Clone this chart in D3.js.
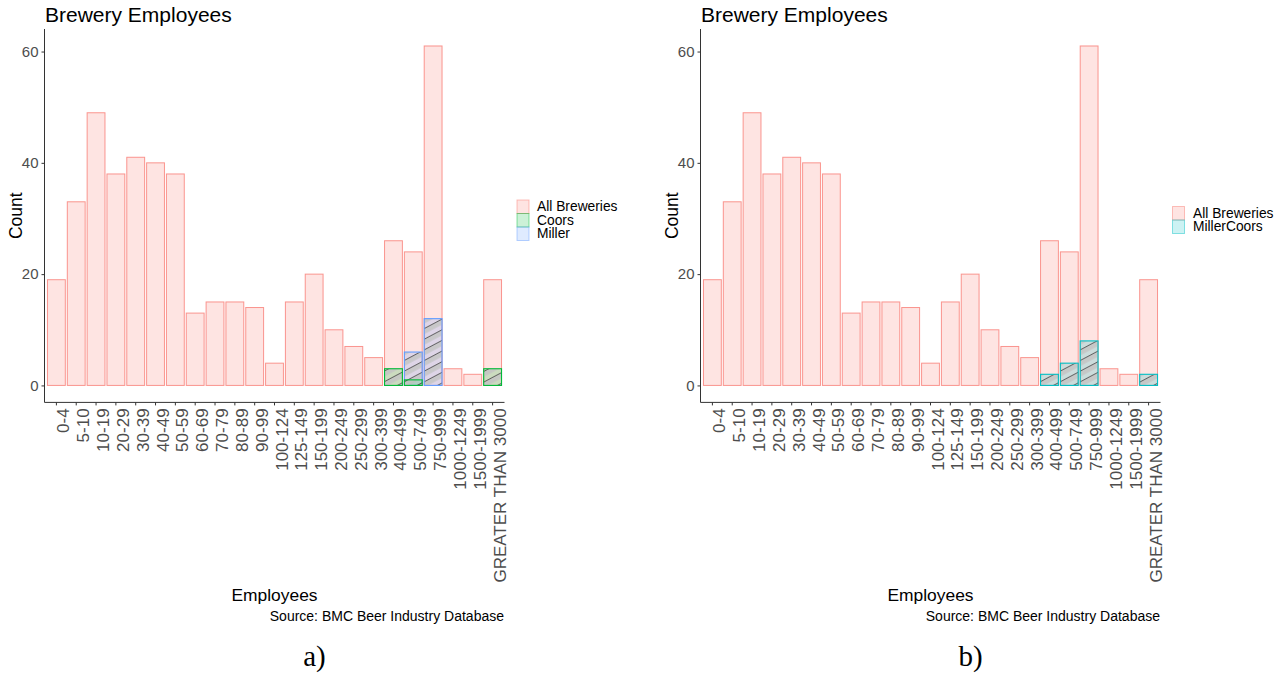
<!DOCTYPE html>
<html><head><meta charset="utf-8">
<script src="https://cdn.jsdelivr.net/npm/d3@7"></script>
<style>body{margin:0;background:#fff}svg{display:block}text{font-family:"Liberation Sans",Arial,sans-serif}</style>
</head><body>
<script>
const categories = ["0-4","5-10","10-19","20-29","30-39","40-49","50-59","60-69","70-79","80-89","90-99","100-124","125-149","150-199","200-249","250-299","300-399","400-499","500-749","750-999","1000-1249","1500-1999","GREATER THAN 3000"];
const allBreweries = [19,33,49,38,41,40,38,13,15,15,14,4,15,20,10,7,5,26,24,61,3,2,19];
const coors =        [0,0,0,0,0,0,0,0,0,0,0,0,0,0,0,0,0,3,1,0,0,0,3];
const miller =       [0,0,0,0,0,0,0,0,0,0,0,0,0,0,0,0,0,0,6,12,0,0,0];
const millerCoors =  [0,0,0,0,0,0,0,0,0,0,0,0,0,0,0,0,0,2,4,8,0,0,2];
const yTicks = [0,20,40,60];
const titleText = "Brewery Employees";
const xTitle = "Employees";
const yTitle = "Count";
const captionText = "Source: BMC Beer Industry Database";

const W = 1288, H = 676;
const svg = d3.select("body").append("svg").attr("width", W).attr("height", H);
const defs = svg.append("defs");

// hatch pattern (grey stripes with dark edge)
const pat = defs.append("pattern").attr("id","hatch").attr("patternUnits","userSpaceOnUse")
  .attr("width",12).attr("height",9.4).attr("patternTransform","rotate(-28)");
pat.append("rect").attr("x",0).attr("y",0).attr("width",12).attr("height",5.4).attr("fill","#c4c4c4");
pat.append("line").attr("x1",0).attr("x2",12).attr("y1",0.4).attr("y2",0.4).attr("stroke","#3a3a3a").attr("stroke-width",0.9);

function panel(ox, series, legendItems, legendX, legendTextX, legendTop, label) {
  const g = svg.append("g").attr("transform", `translate(${ox},0)`);
  const x = d3.scaleBand().domain(categories).range([44.5, 504.5]).paddingInner(0.1).paddingOuter(0.15);
  const y = d3.scaleLinear().domain([-3.05, 64.05]).range([402.4, 29.0]);

  // all breweries
  g.selectAll("rect.all").data(categories).join("rect")
    .attr("x", d => x(d)).attr("width", x.bandwidth())
    .attr("y", (d,i) => y(allBreweries[i])).attr("height", (d,i) => y(0) - y(allBreweries[i]))
    .attr("fill", "#F8766D").attr("fill-opacity", 0.2)
    .attr("stroke", "#F8766D").attr("stroke-opacity", 0.75).attr("stroke-width", 1);

  series.forEach(s => {
    const data = categories.map((c,i) => ({c, v: s.values[i]})).filter(d => d.v > 0);
    const gg = g.append("g");
    gg.selectAll("rect.f").data(data).join("rect")
      .attr("x", d => x(d.c)).attr("width", x.bandwidth())
      .attr("y", d => y(d.v)).attr("height", d => y(0) - y(d.v))
      .attr("fill", s.color).attr("fill-opacity", 0.2);
    gg.selectAll("rect.h").data(data).join("rect")
      .attr("x", d => x(d.c)).attr("width", x.bandwidth())
      .attr("y", d => y(d.v)).attr("height", d => y(0) - y(d.v))
      .attr("fill", "url(#hatch)").attr("fill-opacity", 0.85);
    gg.selectAll("rect.s").data(data).join("rect")
      .attr("x", d => x(d.c)).attr("width", x.bandwidth())
      .attr("y", d => y(d.v)).attr("height", d => y(0) - y(d.v))
      .attr("fill", "none").attr("stroke", s.color).attr("stroke-width", 1.1);
  });

  // axes
  const yAxis = g.append("g").attr("transform","translate(44.5,0)")
    .call(d3.axisLeft(y).tickValues(yTicks).tickSize(3).tickPadding(3));
  yAxis.select(".domain").attr("stroke","#333").attr("stroke-width",1).attr("d", `M0,${y.range()[1]}V${y.range()[0]}`);
  yAxis.selectAll(".tick line").attr("stroke","#333");
  yAxis.selectAll(".tick text").attr("fill","#4d4d4d").style("font-size","15px").style("font-family","Liberation Sans, Arial, sans-serif");

  const xAxis = g.append("g").attr("transform","translate(0,402.4)")
    .call(d3.axisBottom(x).tickSize(3).tickPadding(0));
  xAxis.select(".domain").attr("stroke","#333").attr("stroke-width",1).attr("d", `M44.5,0H504.5`);
  xAxis.selectAll(".tick line").attr("stroke","#333");
  xAxis.selectAll(".tick text")
    .attr("fill","#4d4d4d").style("font-size","17px").style("font-family","Liberation Sans, Arial, sans-serif")
    .attr("transform","translate(13,6) rotate(-90)")
    .attr("x",0).attr("y",0).attr("dy",null).attr("text-anchor","end");

  // titles
  g.append("text").attr("x",45).attr("y",22).attr("font-size",21).attr("fill","#000").text(titleText);
  g.append("text").attr("transform","translate(21.5,215.7) rotate(-90)").attr("text-anchor","middle")
    .attr("font-size",17.5).attr("fill","#000").text(yTitle);
  g.append("text").attr("x",274.5).attr("y",601).attr("text-anchor","middle").attr("font-size",17.4).attr("fill","#000").text(xTitle);
  g.append("text").attr("x",504).attr("y",621).attr("text-anchor","end").attr("font-size",14).attr("fill","#000").text(captionText);
  g.append("text").attr("x",314.5).attr("y",666).attr("text-anchor","middle").attr("font-size",29)
    .style("font-family","'Liberation Serif','DejaVu Serif',serif").attr("fill","#000").text(label);

  // legend
  const lg = svg.append("g");
  legendItems.forEach((it,i) => {
    const ky = legendTop + i*13.5;
    lg.append("rect").attr("x",legendX).attr("y",ky).attr("width",12).attr("height",13.5)
      .attr("fill",it.color).attr("fill-opacity",0.2).attr("stroke",it.color).attr("stroke-opacity",0.45).attr("stroke-width",1);
    lg.append("text").attr("x",legendTextX).attr("y",ky+11.3).attr("font-size",13.8).attr("fill","#000").text(it.name);
  });
}

const colAll = "#F8766D", colCoors = "#00BA38", colMiller = "#619CFF", colMC = "#00BFC4";
panel(0,
  [{name:"Miller", values: miller, color:colMiller}, {name:"Coors", values: coors, color:colCoors}],
  [{name:"All Breweries", color:colAll}, {name:"Coors", color:colCoors}, {name:"Miller", color:colMiller}],
  517, 537, 200, "a)");
panel(656,
  [{name:"MillerCoors", values: millerCoors, color:colMC}],
  [{name:"All Breweries", color:colAll}, {name:"MillerCoors", color:colMC}],
  1172.5, 1193, 206.5, "b)");
</script>
</body></html>
